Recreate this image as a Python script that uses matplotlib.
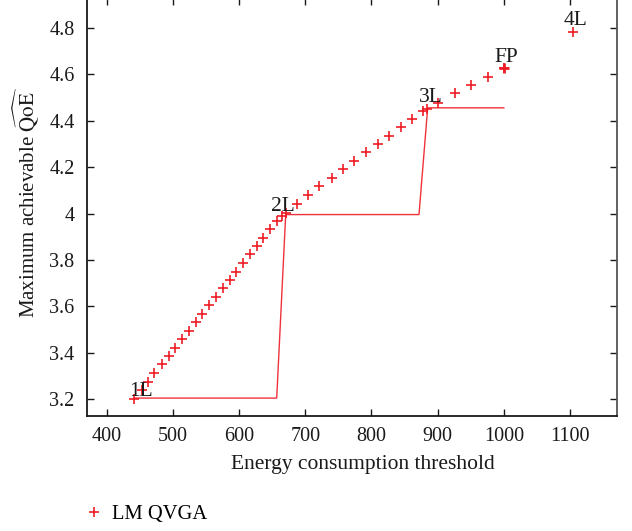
import matplotlib
matplotlib.use("Agg")
import matplotlib.pyplot as plt

plt.rcParams["font.family"] = ["Liberation Serif", "DejaVu Serif"]
plt.rcParams["mathtext.fontset"] = "stix"

# LM QVGA operating points: energy threshold vs. maximum achievable QoE
energy = [441.7, 452.9, 462.8, 471.9, 483.5, 493.7, 503.6, 513.8, 524.0, 534.2,
          544.3, 554.9, 565.1, 575.6, 585.5, 595.8, 606.4, 616.5, 626.6, 636.6,
          646.7, 657.7, 664.8, 670.9, 688.0, 704.6, 721.2, 739.6, 756.5, 773.6,
          791.8, 809.4, 826.9, 844.2, 861.2, 878.3, 883.5, 901.0, 925.5, 950.4,
          975.6, 1000.2, 1104.9]
qoe = [3.201, 3.240, 3.276, 3.312, 3.351, 3.387, 3.423, 3.460, 3.496, 3.532,
       3.568, 3.606, 3.642, 3.679, 3.714, 3.750, 3.786, 3.826, 3.860, 3.896,
       3.932, 3.968, 3.988, 4.003, 4.042, 4.080, 4.117, 4.152, 4.191, 4.228,
       4.264, 4.301, 4.334, 4.372, 4.409, 4.444, 4.452, 4.477, 4.518, 4.554,
       4.590, 4.626, 4.784]

# layered (step) configuration curve
step_energy = [441.7, 656.8, 670.4, 871.8, 884.9, 1000.0]
step_qoe = [3.205, 3.205, 3.996, 3.996, 4.456, 4.456]

# annotated points
point_labels = ["1L", "2L", "3L", "FP", "4L"]
label_x = [451.8, 666.3, 889.2, 1003.3, 1108.3]
label_y = [3.214, 4.011, 4.482, 4.655, 4.813]

RED = "#ee1c25"
INK = "#1a1a1a"


def main():
    fig = plt.figure(figsize=(6.32, 5.31), dpi=100)
    ax = fig.add_axes([0.1377, 0.2171, 0.9763 - 0.1377, 1.004 - 0.2171])

    ax.plot(step_energy, step_qoe, color=RED, lw=1.0, alpha=0.9)
    ax.plot(energy, qoe, linestyle="none", marker="+", ms=7.5, mew=1.2,
            color=RED, label="LM QVGA")
    # full-profile point drawn a bit heavier
    ax.plot(energy[41], qoe[41], linestyle="none", marker="+", ms=7.5,
            mew=2.0, color=RED)

    for lab, x, y in zip(point_labels, label_x, label_y):
        ax.text(x, y, lab, ha="center", va="baseline", fontsize=15.5, color=INK)

    ax.set_xlim(370.2, 1171)
    ax.set_ylim(3.129, 4.93)
    ax.set_xticks([400, 500, 600, 700, 800, 900, 1000, 1100])
    ax.set_yticks([3.2, 3.4, 3.6, 3.8, 4.0, 4.2, 4.4, 4.6, 4.8])
    ax.set_yticklabels(["3.2", "3.4", "3.6", "3.8", "4", "4.2", "4.4", "4.6", "4.8"])

    ax.tick_params(direction="in", top=True, right=True, length=5, width=1.0,
                   labelsize=14.5, colors=INK, pad=8)
    ax.tick_params(axis="y", pad=9)
    for spine in ax.spines.values():
        spine.set_linewidth(1.3)
        spine.set_color(INK)
    ax.spines["right"].set_color("#555555")

    ax.set_xlabel("Energy consumption threshold", fontsize=15.5, color=INK)
    ax.xaxis.set_label_coords(0.52, -0.095)
    ax.set_ylabel(r"Maximum achievable $\widehat{\mathrm{QoE}}$", fontsize=15,
                  color=INK)
    ax.yaxis.set_label_coords(-0.087, 0.51)

    fig.legend(loc="center left", bbox_to_anchor=(0.116, 0.032), frameon=False,
               handlelength=1.0, handletextpad=0.4, borderpad=0, fontsize=14.8)

    fig.savefig("out.png", dpi=100)


if __name__ == "__main__":
    main()
